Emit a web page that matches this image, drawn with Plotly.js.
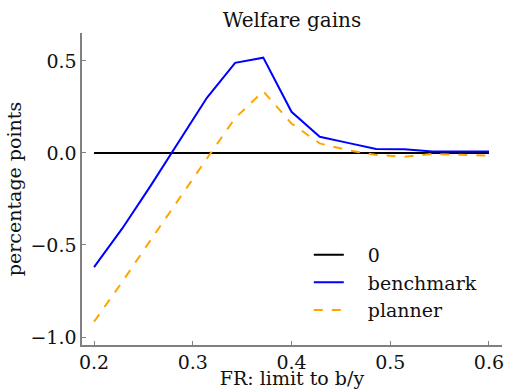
<!DOCTYPE html>
<html>
<head>
<meta charset="utf-8">
<script src="https://cdn.plot.ly/plotly-3.0.1.min.js"></script>
<style>html,body{margin:0;padding:0;background:#fff;}#chart{width:506px;height:389px;}</style>
</head>
<body>
<div id="chart"></div>
<script>
const limits = [0.2, 0.2286, 0.2571, 0.2857, 0.3143, 0.3429, 0.3714, 0.4, 0.4286, 0.4571, 0.4857, 0.5143, 0.5429, 0.5714, 0.6];
const benchmark = [-0.62, -0.41, -0.18, 0.06, 0.30, 0.49, 0.518, 0.224, 0.088, 0.055, 0.022, 0.02, 0.008, 0.008, 0.008];
const planner = [-0.917, -0.70, -0.475, -0.25, -0.03, 0.19, 0.335, 0.16, 0.052, 0.015, -0.011, -0.02, -0.005, -0.01, -0.015];
const zeroLine = [0, 0];
const zeroX = [limits[0], limits[limits.length - 1]];
const yTicks = [-1.0, -0.5, 0.0, 0.5];
const xTicks = [0.2, 0.3, 0.4, 0.5, 0.6];

const font = 'DejaVu Serif';
const sp = '\u2002\u2002';
const traces = [
  {x: zeroX, y: zeroLine, mode: 'lines', name: sp + '0', line: {color: 'black', width: 2}, legendgroup: 'a'},
  {x: limits, y: benchmark, mode: 'lines', name: sp + 'benchmark', line: {color: 'blue', width: 2}, legendgroup: 'b'},
  {x: limits, y: planner, mode: 'lines', name: sp + 'planner', line: {color: 'orange', width: 2, dash: 'dash'}, legendgroup: 'c'}
];
const axisCommon = {
  showgrid: false, zeroline: false, showline: true, linecolor: '#808080', linewidth: 1.6,
  ticks: 'inside', ticklen: 4, tickcolor: '#808080', tickwidth: 1,
  tickfont: {family: font, size: 19, color: '#111'}, mirror: false, automargin: false
};
const layout = {
  width: 506, height: 389,
  margin: {l: 82, r: 4, t: 33, b: 44},
  paper_bgcolor: 'white', plot_bgcolor: 'white',
  font: {family: font, color: '#111'},
  title: {text: 'Welfare gains', font: {family: font, size: 20, color: '#111'}, x: 0.577, xanchor: 'center', y: 0.949, yanchor: 'middle'},
  xaxis: Object.assign({}, axisCommon, {
    range: [0.1878, 0.6132], tickvals: xTicks, ticktext: xTicks.map(v => v.toFixed(1)),
    title: {text: 'FR: limit to b/y', font: {family: font, size: 19, color: '#111'}, standoff: 0}
  }),
  yaxis: Object.assign({}, axisCommon, {
    range: [-1.0435, 0.652], tickvals: yTicks, ticktext: yTicks.map(v => (v < 0 ? '\u2212' : '') + Math.abs(v).toFixed(1)),
    title: {text: 'percentage points', font: {family: font, size: 19, color: '#111'}, standoff: 4}
  }),
  showlegend: true,
  legend: {x: 0.54, y: 0.35, xanchor: 'left', yanchor: 'top', bgcolor: 'rgba(0,0,0,0)', borderwidth: 0,
    font: {family: font, size: 19, color: '#111'}, traceorder: 'grouped', tracegroupgap: 0}
};
Plotly.newPlot('chart', traces, layout, {displayModeBar: false, staticPlot: true});
</script>
</body>
</html>
